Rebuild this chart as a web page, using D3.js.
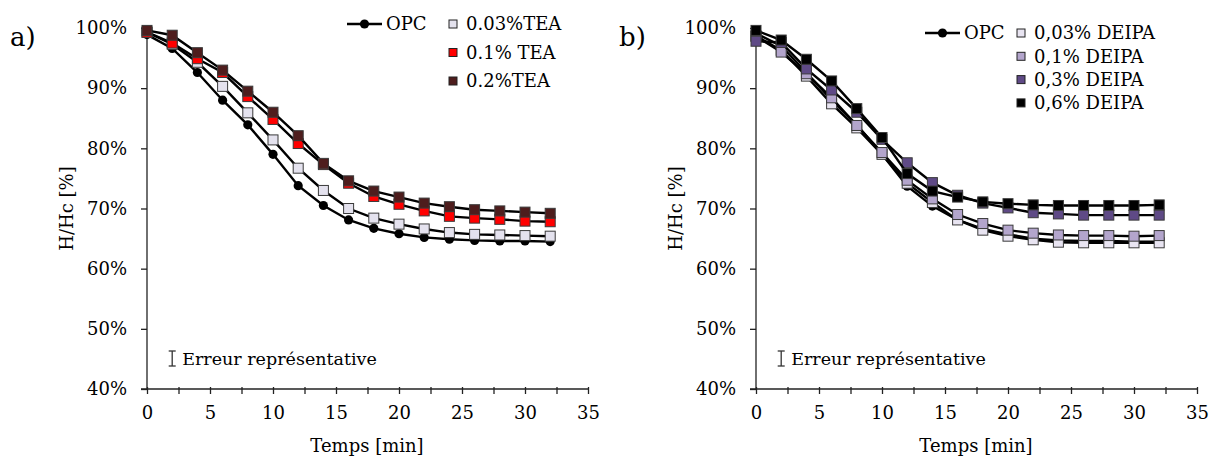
<!DOCTYPE html>
<html>
<head>
<meta charset="utf-8">
<script src="https://cdn.jsdelivr.net/npm/d3@7"></script>
<style>
  html, body { margin: 0; padding: 0; background: #fff; }
  svg { display: block; font-family: "DejaVu Serif", "Liberation Serif", serif; }
</style>
</head>
<body>
<svg id="chart" width="1218" height="458"></svg>
<script>
// ---------- data ----------
const time = [0, 2, 4, 6, 8, 10, 12, 14, 16, 18, 20, 22, 24, 26, 28, 30, 32];
const xTicks = [0, 5, 10, 15, 20, 25, 30, 35];
const yTicks = [40, 50, 60, 70, 80, 90, 100];

// Panel a) TEA
const aOPC    = [98.9, 96.6, 92.6, 88.0, 83.9, 79.0, 73.8, 70.5, 68.1, 66.7, 65.8, 65.2, 64.9, 64.7, 64.6, 64.6, 64.5];
const aTEA003 = [99.3, 97.3, 94.3, 90.3, 85.9, 81.4, 76.7, 73.0, 70.0, 68.4, 67.4, 66.6, 66.0, 65.7, 65.6, 65.5, 65.4];
const aTEA01  = [99.3, 97.5, 94.9, 92.6, 88.6, 84.8, 80.8, 77.3, 74.2, 72.0, 70.7, 69.6, 68.7, 68.4, 68.2, 67.9, 67.8];
const aTEA02  = [99.6, 98.8, 95.9, 93.0, 89.5, 86.0, 82.1, 77.5, 74.6, 72.9, 71.9, 70.9, 70.3, 69.8, 69.6, 69.4, 69.2];

// Panel b) DEIPA
const bOPC      = [99.1, 97.0, 92.6, 88.0, 83.9, 79.0, 73.7, 70.4, 68.1, 66.6, 65.7, 65.0, 64.7, 64.6, 64.6, 64.5, 64.5];
const bDEIPA003 = [98.7, 96.3, 92.0, 87.4, 83.4, 79.0, 74.2, 71.0, 68.1, 66.4, 65.4, 64.8, 64.4, 64.3, 64.3, 64.3, 64.3];
const bDEIPA01  = [98.6, 96.0, 92.4, 88.4, 83.8, 79.3, 74.7, 71.6, 69.0, 67.5, 66.4, 65.9, 65.6, 65.5, 65.5, 65.4, 65.5];
const bDEIPA03  = [97.8, 97.6, 93.2, 89.7, 86.0, 81.5, 77.6, 74.3, 72.2, 70.9, 70.1, 69.3, 69.1, 68.9, 68.9, 68.9, 68.9];
const bDEIPA06  = [99.6, 98.0, 94.8, 91.2, 86.6, 81.8, 75.8, 72.9, 71.9, 71.1, 70.8, 70.6, 70.5, 70.5, 70.5, 70.5, 70.6];

const panels = [
  {
    tag: "a)", x0: 147, legendX: 347, lineLegendY: 24, sqX: 453, sqY0: 24, sqDy: 28.5,
    series: [
      { name: "OPC",       values: aOPC,    shape: "circle", fill: "#000" },
      { name: "0.03%TEA",  values: aTEA003, shape: "square", fill: "#e4e2ee" },
      { name: "0.1% TEA",  values: aTEA01,  shape: "square", fill: "#ff0000" },
      { name: "0.2%TEA",   values: aTEA02,  shape: "square", fill: "#4e1d1d" }
    ]
  },
  {
    tag: "b)", x0: 756, legendX: 925, lineLegendY: 33, sqX: 1021, sqY0: 33, sqDy: 23.3,
    series: [
      { name: "OPC",          values: bOPC,      shape: "circle", fill: "#000" },
      { name: "0,03% DEIPA",  values: bDEIPA003, shape: "square", fill: "#e8e4f1" },
      { name: "0,1% DEIPA",   values: bDEIPA01,  shape: "square", fill: "#b3a5cc" },
      { name: "0,3% DEIPA",   values: bDEIPA03,  shape: "square", fill: "#5f4a86" },
      { name: "0,6% DEIPA",   values: bDEIPA06,  shape: "square", fill: "#000000" }
    ]
  }
];

const svg = d3.select("#chart");
svg.append("rect").attr("width", 1218).attr("height", 458).attr("fill", "#fff");

const W = 441, yTop = 28, yBot = 389;
const axisColor = "#222";
const txt = "#000";

panels.forEach(p => {
  const x = d3.scaleLinear().domain([0, 35]).range([p.x0, p.x0 + W]);
  const y = d3.scaleLinear().domain([40, 100]).range([yBot, yTop]);
  const g = svg.append("g");

  // Y axis
  const yAx = g.append("g").attr("transform", `translate(${p.x0},0)`)
    .call(d3.axisLeft(y).tickValues(yTicks).tickFormat(d => d + "%").tickSize(6).tickPadding(14));
  yAx.select(".domain").attr("stroke", axisColor).attr("stroke-width", 1.3).attr("d", `M0,${yTop}V${yBot}`);
  yAx.selectAll(".tick line").attr("stroke", axisColor).attr("stroke-width", 1.3);
  yAx.selectAll(".tick text").attr("font-size", 18).attr("fill", txt).attr("font-family", "DejaVu Serif");

  // X axis (minor ticks every 2.5, labels every 5)
  const minor = d3.range(0, 35.01, 2.5);
  const xAx = g.append("g").attr("transform", `translate(0,${yBot})`)
    .call(d3.axisBottom(x).tickValues(minor).tickFormat(d => xTicks.includes(d) ? d : "").tickSize(5).tickPadding(12));
  xAx.select(".domain").attr("stroke", axisColor).attr("stroke-width", 1.3).attr("d", `M${p.x0 - 6},0H${p.x0 + W}`);
  xAx.selectAll(".tick line").attr("stroke", axisColor).attr("stroke-width", 1.3).attr("y1", -2);
  xAx.selectAll(".tick text").attr("font-size", 18).attr("fill", txt).attr("font-family", "DejaVu Serif");

  // axis titles
  g.append("text").attr("x", p.x0 + 220).attr("y", 452).attr("text-anchor", "middle")
    .attr("font-size", 18).attr("fill", txt).text("Temps [min]");
  g.append("text").attr("transform", `translate(${p.x0 - 80},${(yTop + yBot) / 2}) rotate(-90)`)
    .attr("text-anchor", "middle").attr("dy", "0.35em").attr("font-size", 18).attr("fill", txt).text("H/Hc [%]");
  g.append("text").attr("x", p.x0 - 137).attr("y", 46).attr("font-size", 26).attr("fill", txt).text(p.tag);

  // representative error
  const ex = x(2), ey1 = 351, ey2 = 366;
  g.append("line").attr("x1", ex).attr("x2", ex).attr("y1", ey1).attr("y2", ey2).attr("stroke", "#333").attr("stroke-width", 1.3);
  g.append("line").attr("x1", ex - 3.5).attr("x2", ex + 3.5).attr("y1", ey1).attr("y2", ey1).attr("stroke", "#333").attr("stroke-width", 1.3);
  g.append("line").attr("x1", ex - 3.5).attr("x2", ex + 3.5).attr("y1", ey2).attr("y2", ey2).attr("stroke", "#333").attr("stroke-width", 1.3);
  g.append("text").attr("x", ex + 10).attr("y", 365).attr("font-size", 17.5).attr("fill", txt).text("Erreur représentative");

  // series
  const line = d3.line().x((d, i) => x(time[i])).y(d => y(d));
  p.series.forEach(s => {
    const sg = g.append("g");
    sg.append("path").attr("d", line(s.values)).attr("fill", "none").attr("stroke", "#000").attr("stroke-width", 2.4);
    if (s.shape === "circle") {
      sg.selectAll("circle").data(s.values).join("circle")
        .attr("cx", (d, i) => x(time[i])).attr("cy", d => y(d)).attr("r", 4.6).attr("fill", "#000");
    } else {
      const sz = 10;
      sg.selectAll("rect").data(s.values).join("rect")
        .attr("x", (d, i) => x(time[i]) - sz / 2).attr("y", d => y(d) - sz / 2)
        .attr("width", sz).attr("height", sz).attr("fill", s.fill)
        .attr("stroke", "#3a3a3a").attr("stroke-width", 1);
    }
  });

  // legend
  const lg = g.append("g");
  const opc = p.series[0];
  lg.append("line").attr("x1", p.legendX).attr("x2", p.legendX + 35).attr("y1", p.lineLegendY).attr("y2", p.lineLegendY)
    .attr("stroke", "#000").attr("stroke-width", 2.4);
  lg.append("circle").attr("cx", p.legendX + 17.5).attr("cy", p.lineLegendY).attr("r", 4.6).attr("fill", "#000");
  lg.append("text").attr("x", p.legendX + 39).attr("y", p.lineLegendY).attr("dy", "0.35em")
    .attr("font-size", 18).attr("fill", txt).text(opc.name);
  p.series.slice(1).forEach((s, i) => {
    const cy = p.sqY0 + i * p.sqDy;
    lg.append("rect").attr("x", p.sqX - 4).attr("y", cy - 4).attr("width", 8).attr("height", 8)
      .attr("fill", s.fill).attr("stroke", "#222").attr("stroke-width", 1);
    lg.append("text").attr("x", p.sqX + 13).attr("y", cy).attr("dy", "0.35em")
      .attr("font-size", 18).attr("fill", txt).text(s.name);
  });
});
</script>
</body>
</html>
